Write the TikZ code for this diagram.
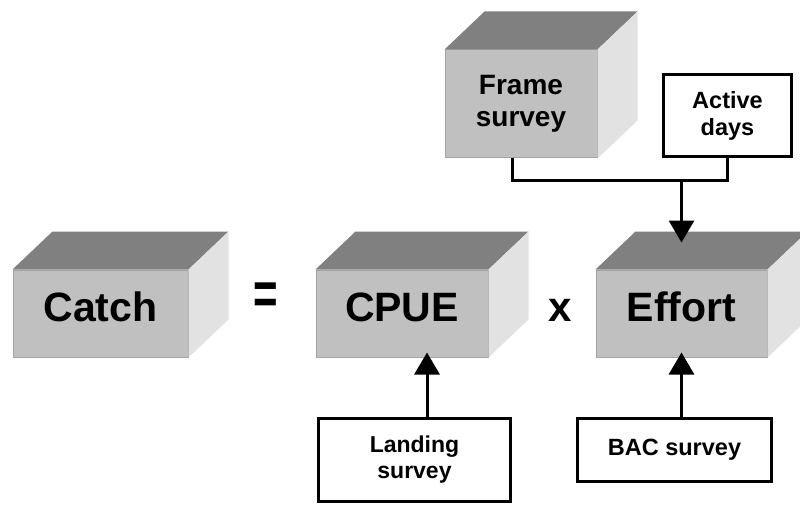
\documentclass[tikz,border=0pt]{standalone}
\usepackage{fontspec}
\setmainfont{Liberation Sans}
\usetikzlibrary{arrows.meta}

\definecolor{facefront}{RGB}{192,192,192}
\definecolor{facetop}{RGB}{128,128,128}
\definecolor{faceside}{RGB}{226,226,226}

\begin{document}
\begin{tikzpicture}[x=1pt,y=-1pt,
  cube/.style={fill=facefront,draw=facefront!85!black,line width=1pt,inner sep=0pt,align=center,font=\bfseries\fontsize{41}{46}\selectfont},
  src/.style={draw=black,line width=3pt,fill=white,inner sep=0pt,align=center},
  sign/.style={font=\bfseries\fontsize{42}{46}\selectfont},
  link/.style={line width=3pt},
  arr/.style={line width=3pt,-{Triangle[width=25pt,length=22pt]}}]
  \useasboundingbox (0,0) rectangle (800,505);
  \clip (0,0) rectangle (800,505);
  % front faces
  \node[cube,text height=30pt,text depth=14pt,minimum width=175,minimum height=87] (catch) at (100.5,313.5) {Catch};
  \node[cube,text height=30pt,text depth=14pt,minimum width=172,minimum height=87] (cpue) at (402,313.5) {CPUE};
  \node[cube,text height=30pt,text depth=14pt,minimum width=171,minimum height=87] (effort) at (681.5,313.5) {Effort};
  \node[cube,minimum width=152,minimum height=108,font=\bfseries\fontsize{28}{32}\selectfont] (frame) at (521,104) {Frame\\survey};
  % top and side faces
  \foreach \n in {catch,cpue,effort,frame}{
    \fill[facetop] (\n.north west) -- ++(40,-38) -- ([shift={(40,-38)}]\n.north east) -- (\n.north east) -- cycle;
    \fill[faceside] (\n.north east) -- ++(40,-38) -- ([shift={(40,-38)}]\n.south east) -- (\n.south east) -- cycle;
  }
  \node[sign] (eq) at (266,299) {\scalebox{1}[1.45]{=}};
  \node[sign] (times) at (560,310) {x};
  % data sources
  \node[src,minimum width=128,minimum height=82,font=\bfseries\fontsize{23.5}{27}\selectfont] (active) at (727.5,115.5) {Active\\days};
  \node[src,minimum width=192,minimum height=83,font=\bfseries\fontsize{23}{26}\selectfont] (landing) at (414.5,460) {Landing\\survey};
  \node[src,minimum width=194,minimum height=63,font=\bfseries\fontsize{23.5}{26}\selectfont] (bac) at (674.5,450) {BAC survey};
  % connectors
  \draw[link] ([xshift=-9pt]frame.south) -- ++(0,22) coordinate (fbend) -| (active.south);
  \draw[arr] (fbend -| effort.north) -- ([yshift=27pt]effort.north);
  \draw[arr] ([xshift=12.5pt]landing.north) -- ([xshift=12.5pt,yshift=5pt]landing.north |- cpue.south);
  \draw[arr] (bac.north -| effort.south) -- ([yshift=5pt]effort.south);
\end{tikzpicture}
\end{document}
